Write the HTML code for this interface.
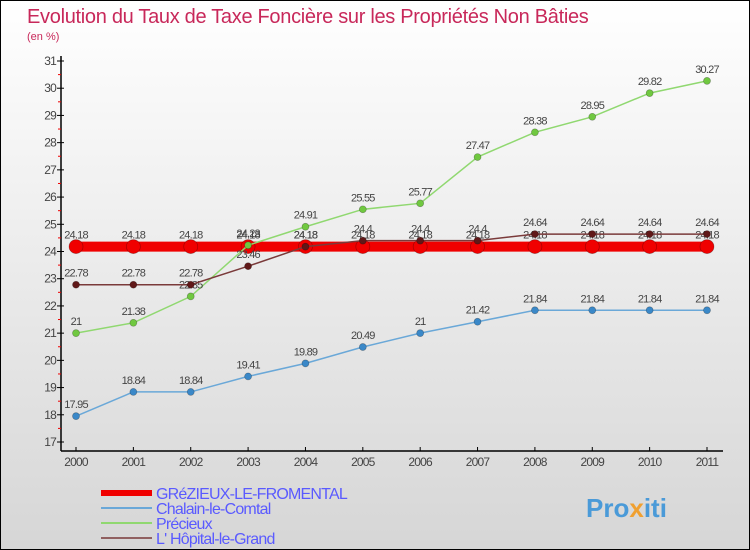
<!DOCTYPE html>
<html><head><meta charset="utf-8"><style>
body{margin:0}
#c{width:750px;height:550px;position:relative;box-sizing:border-box;border:1px solid #000;background:linear-gradient(#fff,#d6d6d6);font-family:"Liberation Sans",sans-serif;overflow:hidden}
</style></head><body>
<div id="c">
<svg id="s" width="748" height="548" style="position:absolute;left:0;top:0" font-family="Liberation Sans, sans-serif">
<text x="26" y="22" font-size="20" fill="#c8285a" letter-spacing="-0.3">Evolution du Taux de Taxe Foncière sur les Propriétés Non Bâties</text>
<text x="26" y="39" font-size="11" fill="#c8285a">(en %)</text>
<g id="g"></g>
<text x="585" y="516" font-size="26" font-weight="bold" fill="#4a9ad8">Pro<tspan fill="#f0a030">x</tspan>iti</text>
</svg>
</div>
<script>
const years=["2000","2001","2002","2003","2004","2005","2006","2007","2008","2009","2010","2011"];
const yTicks=[17,18,19,20,21,22,23,24,25,26,27,28,29,30,31];
const grezieux=[24.18,24.18,24.18,24.18,24.18,24.18,24.18,24.18,24.18,24.18,24.18,24.18];
const chalain=[17.95,18.84,18.84,19.41,19.89,20.49,21,21.42,21.84,21.84,21.84,21.84];
const precieux=[21,21.38,22.35,24.23,24.91,25.55,25.77,27.47,28.38,28.95,29.82,30.27];
const hopital=[22.78,22.78,22.78,23.46,24.18,24.4,24.4,24.4,24.64,24.64,24.64,24.64];
const names=["GRéZIEUX-LE-FROMENTAL","Chalain-le-Comtal","Précieux","L' Hôpital-le-Grand"];
const NS="http://www.w3.org/2000/svg",g=document.getElementById('g');
const X=i=>75+i*(706-75)/11, Y=v=>441-(v-17)*(441-60)/14;
function el(t,a,txt){const e=document.createElementNS(NS,t);for(const k in a)e.setAttribute(k,a[k]);if(txt!==undefined)e.textContent=txt;g.appendChild(e);return e;}
let ax=el('line',{x1:60,y1:55,x2:60,y2:450,stroke:'#000','stroke-width':1.5});


let bx=el('line',{x1:60,y1:450,x2:722,y2:450,stroke:'#000','stroke-width':1.5});


yTicks.forEach(v=>{el('line',{x1:56,y1:Y(v),x2:63,y2:Y(v),stroke:'#000'});
if(v<31)el('line',{x1:57,y1:Y(v+0.5),x2:60,y2:Y(v+0.5),stroke:'#e00'});
let t=el('text',{x:55,y:Y(v)+4,'font-size':12,fill:'#444','text-anchor':'end','letter-spacing':-0.8},v);

});
years.forEach((y,i)=>{el('line',{x1:X(i),y1:446,x2:X(i),y2:450,stroke:'#000'});
let t=el('text',{x:X(i),y:465,'font-size':12,fill:'#444','text-anchor':'middle','letter-spacing':-0.8},y);

});
function series(d,col,dot,w,r,name){
let p=el('polyline',{points:d.map((v,i)=>X(i)+','+Y(v)).join(' '),fill:'none',stroke:col,'stroke-width':w});


d.forEach((v,i)=>{let c=el('circle',{cx:X(i),cy:Y(v),r:r,fill:dot,stroke:'rgba(0,0,0,0.3)','stroke-width':0.7});


let t=el('text',{x:X(i),y:Y(v)-8,'font-size':11,fill:'#444','text-anchor':'middle','letter-spacing':-0.8},String(v));

});}
series(grezieux,'#f00000','#f00000',10,7,'grezieux');
series(chalain,'#6aa8d8','#3a88c8',1.5,3.5,'chalain');
series(precieux,'#90d870','#70c840',1.5,3.5,'precieux');
series(hopital,'#7a3a3a','#601818',1.5,3.5,'hopital');
const lc=['#f00000','#6aa8d8','#90d870','#906060'],lw=[6,2,2,2];
names.forEach((n,i)=>{let y=492+i*15;
let l=el('line',{x1:100,y1:y,x2:151,y2:y,stroke:lc[i],'stroke-width':lw[i]});


let t=el('text',{x:155,y:y+6,'font-size':16,fill:'#5a5aff','letter-spacing':-0.8},n);

});
</script>
</body></html>
